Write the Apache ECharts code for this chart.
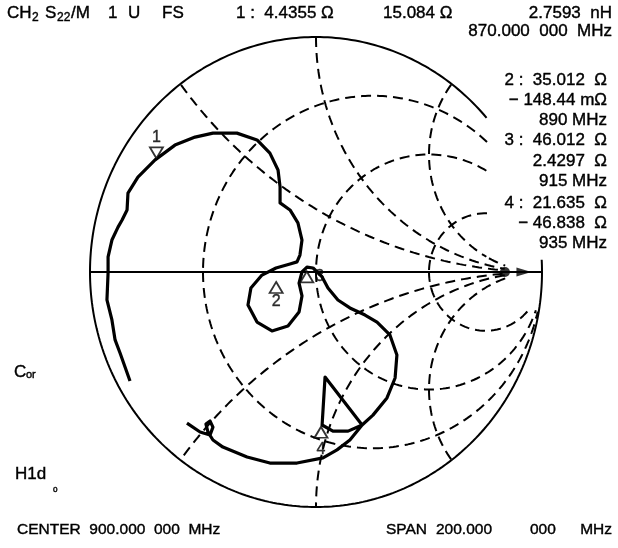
<!DOCTYPE html>
<html><head><meta charset="utf-8">
<script src="https://cdn.jsdelivr.net/npm/echarts@6/dist/echarts.min.js"></script>
<style>html,body{margin:0;padding:0;background:#fff}#c{width:618px;height:548px}</style>
</head><body><div id="c"></div>
<script>
// ---- data ----
const Z0 = 50;
const resistanceCircles = [1/3, 1, 3];
const reactanceArcs = [0.5, 1, 2, -0.5, -1, -2];
const markerNames = ['1', '2', '3', '4'];
const markerR = [4.4355, 35.012, 46.012, 21.635];
const markerX = [15.084, -0.14844, 2.4297, -46.838];
const markerXText = ['15.084 Ω', '− 148.44 mΩ', '2.4297  Ω', '− 46.838  Ω'];
const markerRText = ['4.4355 Ω', '35.012  Ω', '46.012  Ω', '21.635  Ω'];
const markerFreq = ['870.000  000  MHz', '890 MHz', '915 MHz', '935 MHz'];
const markerInductance = '2.7593  nH';
const centerText = 'CENTER  900.000  000  MHz';
const spanText = ['SPAN', '200.000', '000', 'MHz'];
// measured trace, reflection coefficient (real / imaginary), 800 -> 1000 MHz
const traceRe = [-0.823,-0.845,-0.867,-0.889,-0.903,-0.925,-0.920,-0.920,-0.903,-0.876,-0.858,-0.836,-0.832,-0.788,-0.712,-0.624,-0.535,-0.456,-0.350,-0.261,-0.204,-0.168,-0.159,-0.159,-0.115,-0.080,-0.062,-0.071,-0.084,-0.115,-0.177,-0.239,-0.288,-0.301,-0.261,-0.195,-0.124,-0.075,-0.062,-0.075,-0.062,-0.040,-0.013,0.027,0.053,0.097,0.150,0.217,0.270,0.327,0.358,0.350,0.314,0.252,0.204,0.142,0.075,0.027,0.040,0.204,0.150,0.093,0.031,-0.084,-0.204,-0.305,-0.412,-0.456,-0.478,-0.487,-0.469,-0.456,-0.469,-0.513,-0.571];
const traceIm = [-0.464,-0.404,-0.345,-0.289,-0.204,-0.119,-0.004,0.064,0.136,0.191,0.221,0.264,0.336,0.404,0.477,0.540,0.574,0.591,0.591,0.562,0.506,0.434,0.362,0.294,0.264,0.209,0.136,0.072,0.043,0.034,0.017,-0.013,-0.068,-0.140,-0.213,-0.251,-0.230,-0.170,-0.102,-0.047,0.000,0.021,0.017,-0.021,-0.068,-0.119,-0.153,-0.183,-0.213,-0.268,-0.353,-0.451,-0.536,-0.609,-0.651,-0.677,-0.677,-0.651,-0.447,-0.651,-0.715,-0.757,-0.791,-0.813,-0.813,-0.787,-0.745,-0.715,-0.681,-0.647,-0.634,-0.660,-0.694,-0.681,-0.643];
const refDot = [0.836, 0];
const refArrow = [0.92, 0];

// ---- helpers ----
function gammaOf(R, X) {
  const r = R / Z0, x = X / Z0;
  const nr = r - 1, ni = x, dr = r + 1, di = x;
  const d = dr * dr + di * di;
  return [(nr * dr + ni * di) / d, (ni * dr - nr * di) / d];
}
function hiddenByText(x, y) { return x > 0.757 && y > 0.06; }
function nearInf(x, y) { return (x - 1) * (x - 1) + y * y < 0.165 * 0.165; }
function segmentsOf(pts, hide) {
  const segs = []; let cur = [];
  pts.forEach(p => {
    if (hide(p[0], p[1])) { if (cur.length > 1) segs.push(cur); cur = []; }
    else cur.push(p);
  });
  if (cur.length > 1) segs.push(cur);
  return segs;
}
const N = 720;
const gridSegs = [];
resistanceCircles.forEach(r => {
  const cx = r / (1 + r), rad = 1 / (1 + r), pts = [];
  for (let i = 0; i <= N; i++) { const t = Math.PI * (1 + 2 * i / N); pts.push([cx + rad * Math.cos(t), rad * Math.sin(t)]); }
  segmentsOf(pts, (x, y) => hiddenByText(x, y) || nearInf(x, y)).forEach(s => gridSegs.push(s));
});
reactanceArcs.forEach(xv => {
  const cy = 1 / xv, rad = Math.abs(1 / xv), pts = [];
  for (let i = 0; i <= N; i++) {
    const t = Math.PI * 2 * i / N; pts.push([1 + rad * Math.cos(t), cy + rad * Math.sin(t)]);
  }
  segmentsOf(pts, (x, y) => x * x + y * y > 1.0001 || hiddenByText(x, y) || nearInf(x, y)).forEach(s => gridSegs.push(s));
});
const outerPts = [];
for (let i = 0; i <= N; i++) { const t = Math.PI * (1 + 2 * i / N); outerPts.push([Math.cos(t), Math.sin(t)]); }
const outerSegs = segmentsOf(outerPts, hiddenByText);

const series = [];
gridSegs.forEach(s => series.push({ type: 'line', data: s, showSymbol: false, silent: true,
  lineStyle: { color: '#000', width: 2, type: [10, 6] } }));
outerSegs.forEach(s => series.push({ type: 'line', data: s, showSymbol: false, silent: true,
  lineStyle: { color: '#000', width: 2 } }));
series.push({ type: 'line', data: [[-1, 0], [1, 0]], showSymbol: false, lineStyle: { color: '#000', width: 2 } });
series.push({ type: 'line', data: traceRe.map((v, i) => [v, traceIm[i]]), showSymbol: false, z: 4,
  lineStyle: { color: '#000', width: 3.2, join: 'round' } });
const mk = markerR.map((R, i) => gammaOf(R, markerX[i]));
const markerStyle = [
  { rot: 180, off: [0, -8], lpos: 'top', ldist: 1 },
  { rot: 0, off: [0, 15], lpos: 'bottom', ldist: 0 },
  { rot: 0, off: [0, 11], lpos: 'right', ldist: 1 },
  { rot: 0, off: [0, 10], lpos: 'bottom', ldist: 3 }
];
series.push({ type: 'scatter', z: 5,
  data: mk.map((g, i) => ({ value: g, symbolRotate: markerStyle[i].rot, symbolOffset: markerStyle[i].off,
    label: { show: true, formatter: markerNames[i], position: markerStyle[i].lpos, distance: markerStyle[i].ldist } })),
  symbol: 'triangle', symbolSize: [13, 11],
  itemStyle: { color: '#fff', borderColor: '#000', borderWidth: 1.8 },
  label: { color: '#000', fontSize: 16, fontFamily: 'Liberation Sans', textBorderColor: '#000', textBorderWidth: 0.4 } });
series.push({ type: 'scatter', z: 6, data: [refDot], symbol: 'circle', symbolSize: 10, itemStyle: { color: '#000' } });
series.push({ type: 'scatter', z: 6, data: [refArrow], symbol: 'path://M0,0 L10,5 L0,10 Z', symbolSize: [15, 9], itemStyle: { color: '#000' } });

const FF = '"Liberation Sans", Arial, sans-serif';
const F = '17px ' + FF;
function txt(x, y, s, align, font) {
  return { type: 'text', x: x, y: y, silent: true,
    style: { text: s, font: font || F, fill: '#000', stroke: '#000', lineWidth: 0.4,
      textAlign: align || 'left', textVerticalAlign: 'middle' } };
}
const g = [
  txt(7, 13, 'CH'), txt(32, 18, '2', 'left', '12px ' + FF),
  txt(45, 13, 'S'), txt(57, 18, '22', 'left', '12px ' + FF), txt(71, 13, '/M'),
  txt(108, 13, '1'), txt(128, 13, 'U'), txt(162, 13, 'FS'),
  txt(236, 13, markerNames[0] + ' :  ' + markerRText[0]),
  txt(383, 13, markerXText[0]),
  txt(612, 13, markerInductance, 'right'),
  txt(612, 31, markerFreq[0], 'right')
];
const rowY = [[80, 100, 120], [140, 161, 181], [203, 223, 243]];
for (let i = 1; i < 4; i++) {
  const ys = rowY[i - 1];
  g.push(txt(607, ys[0], markerNames[i] + ' :  ' + markerRText[i], 'right'));
  g.push(txt(607, ys[1], markerXText[i], 'right'));
  g.push(txt(607, ys[2], markerFreq[i], 'right'));
}
g.push(txt(14, 372, 'C'));
g.push(txt(26, 375, 'or', 'left', '11px ' + FF));
g.push(txt(15, 474, 'H1d'));
g.push(txt(53, 488, 'ₒ', 'left', '12px ' + FF));
g.push(txt(17, 530, centerText, 'left', '15.5px ' + FF));
g.push(txt(386, 530, spanText[0], 'left', '15.5px ' + FF));
g.push(txt(436, 530, spanText[1], 'left', '15.5px ' + FF));
g.push(txt(530, 530, spanText[2], 'left', '15.5px ' + FF));
g.push(txt(612, 530, spanText[3], 'right', '15.5px ' + FF));

const chart = echarts.init(document.getElementById('c'), null, { renderer: 'canvas' });
chart.setOption({
  animation: false,
  backgroundColor: '#fff',
  grid: { left: 90, top: 37, width: 452, height: 470 },
  xAxis: { type: 'value', min: -1, max: 1, show: false },
  yAxis: { type: 'value', min: -1, max: 1, show: false },
  series: series,
  graphic: g
});
</script>
</body></html>
